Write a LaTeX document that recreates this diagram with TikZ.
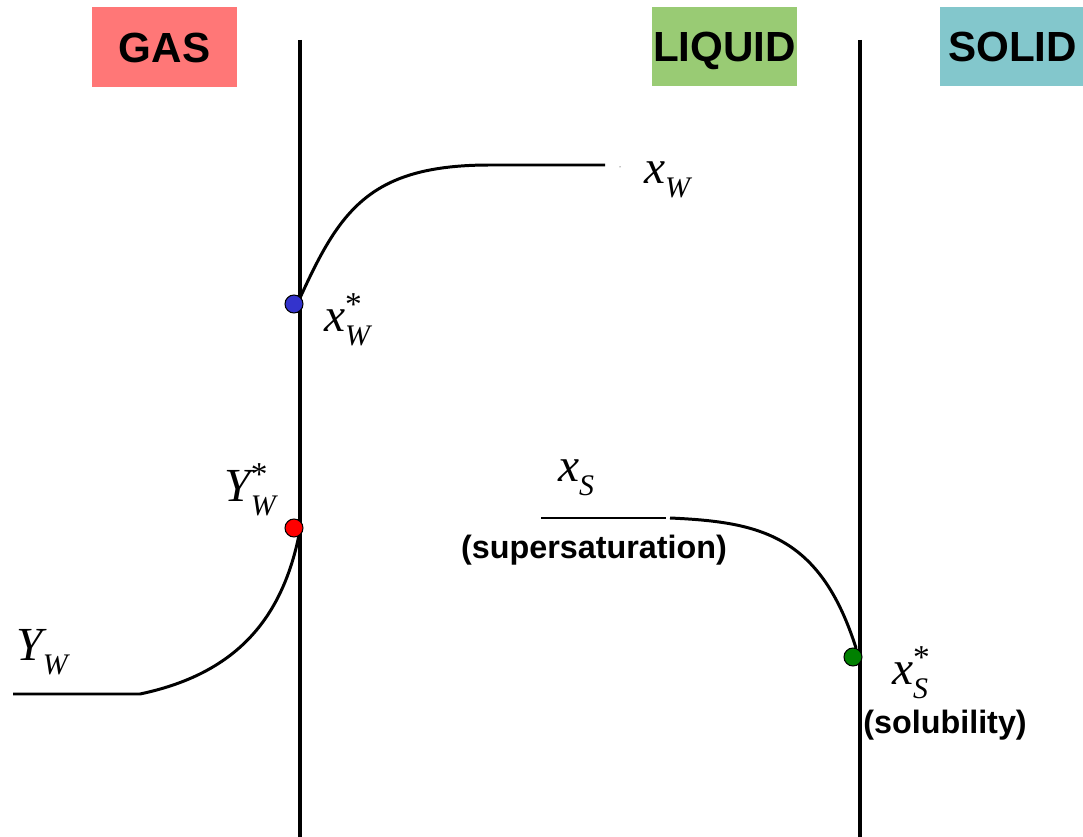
\documentclass[tikz,border=0pt]{standalone}
\usepackage{amsmath}
\usepackage{fontspec}
\setmainfont{Liberation Sans}
\newfontfamily\tms{Liberation Serif}
\usepackage{tikz}
\definecolor{gasred}{HTML}{FF7777}
\definecolor{liqgreen}{HTML}{99CB74}
\definecolor{solcyan}{HTML}{83C7CC}
\definecolor{dotblue}{HTML}{3333CC}
\definecolor{dotgreen}{HTML}{008000}

% italic letter with a large, lowered subscript and optional star
\newcommand{\concsub}[2]{{\itshape #1}\raisebox{-8pt}{\fontsize{17}{17}\selectfont\itshape #2}}
\newcommand{\concstar}[2]{{\itshape #1}\rlap{\raisebox{9pt}{\fontsize{19}{19}\selectfont *}}\raisebox{-8pt}{\fontsize{17}{17}\selectfont\itshape #2}}

\tikzset{
  phase/.style={minimum width=2.9cm, minimum height=1.6cm, inner sep=0pt,
    text height=17.2pt, text depth=0pt,
    font=\fontsize{24}{28}\selectfont\bfseries},
  wall/.style={line width=2.3pt},
  profile/.style={line width=1.7pt},
  pt/.style={circle, draw=black, line width=0.6pt, minimum size=0.36cm, inner sep=0pt},
  conc/.style={inner sep=0pt, font=\fontsize{27}{31}\selectfont\tms},
  note/.style={inner sep=0pt, font=\fontsize{18.4}{22}\selectfont\bfseries}
}

\begin{document}
\begin{tikzpicture}[x=0.02cm, y=-0.02cm]
  \useasboundingbox (0,0) rectangle (1083,837);
  % phase headers
  \node[phase, fill=gasred]   (gas)    at (164.5,47) {GAS};
  \node[phase, fill=liqgreen] (liquid) at (724.5,46.5) {LIQUID};
  \node[phase, fill=solcyan]  (solid)  at (1012.5,46.5) {SOLID};
  % interfaces
  \draw[wall] (300,40) -- (300,837);
  \draw[wall] (860,40) -- (860,837);
  % profiles
  \draw[profile] (300,298) .. controls (340,210) and (370,165) .. (490,165) -- (605,165);
  \fill (620,167) circle (0.5);
  \draw[profile] (300,530) .. controls (283,620) and (235,674) .. (140,694) -- (13,694);
  \draw[profile] (541,518) -- (666,518);
  \draw[profile] (670,518) .. controls (760,522) and (820,535) .. (856,648);
  % interface points
  \node[pt, fill=dotblue]  (xwstar) at (294,304) {};
  \node[pt, fill=red]      (ywstar) at (294,528) {};
  \node[pt, fill=dotgreen] (xsstar) at (853,657) {};
  % labels
  \node[conc] (xw)    at (667,180) {\concsub{x}{W}};
  \node[conc] (xwst)  at (347,320) {\concstar{x}{W}};
  \node[conc] (ywst)  at (250,490) {\concstar{Y}{W}};
  \node[conc] (yw)    at (42,652)  {\concsub{Y}{W}};
  \node[conc] (xs)    at (576,478) {\concsub{x}{S}};
  \node[conc] (xsst)  at (910,673) {\concstar{x}{S}};
  \node[note] (super) at (594,550) {(supersaturation)};
  \node[note] (solub) at (945,725) {(solubility)};
\end{tikzpicture}
\end{document}
